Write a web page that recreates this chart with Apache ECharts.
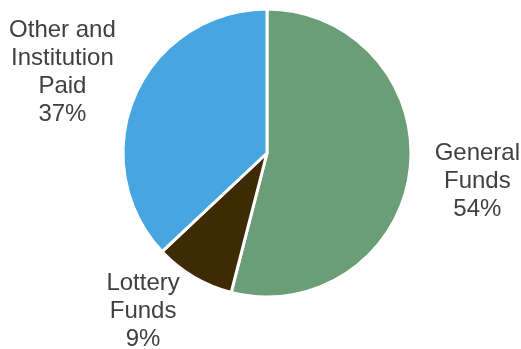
<!DOCTYPE html>
<html><head><meta charset="utf-8">
<script src="https://cdn.jsdelivr.net/npm/echarts@6/dist/echarts.min.js"></script>
<style>html,body{margin:0;padding:0;background:#fff}#c{width:521px;height:349px}</style>
</head><body><div id="c"></div>
<script>
const categories = ['General\nFunds', 'Lottery\nFunds', 'Other and\nInstitution\nPaid'];
const values = [54, 9, 37];
const colors = ['#6B9E76', '#3E2A05', '#47A6E0'];

const cx = 267, cy = 153, r = 144, labelR = 212;
const labelAdjust = [[0, 2], [-16, -24], [-10, 4]];
const total = values.reduce((a, b) => a + b, 0);
const mids = [];
let acc = 0;
values.forEach(v => { mids.push(90 - (acc + v / 2) / total * 360); acc += v; });

const chart = echarts.init(document.getElementById('c'), null, {renderer: 'canvas'});
chart.setOption({
  animation: false,
  series: [{
    type: 'pie',
    center: [cx, cy],
    radius: [0, r],
    startAngle: 90,
    clockwise: true,
    data: categories.map((n, i) => ({name: n, value: values[i], itemStyle: {color: colors[i]}})),
    itemStyle: {borderColor: '#fff', borderWidth: 3},
    label: {
      show: true, position: 'outside', overflow: 'none', alignTo: 'none', bleedMargin: 0,
      formatter: '{b}\n{d}%',
      fontFamily: 'Liberation Sans, Arial, sans-serif',
      fontSize: 24, lineHeight: 28, color: '#404040', align: 'center'
    },
    labelLine: {show: false},
    labelLayout: function (p) {
      const i = p.dataIndex;
      const a = mids[i] * Math.PI / 180;
      return {
        x: cx + labelR * Math.cos(a) + labelAdjust[i][0],
        y: cy - labelR * Math.sin(a) + labelAdjust[i][1],
        align: 'center', verticalAlign: 'middle'
      };
    },
    emphasis: {disabled: true}
  }]
});
</script></body></html>
